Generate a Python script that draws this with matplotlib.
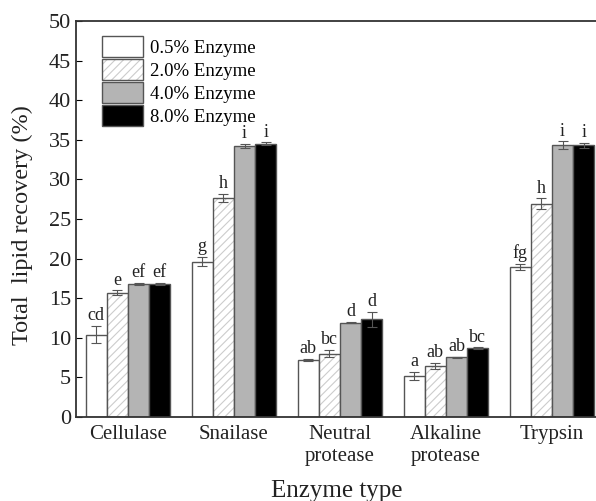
import numpy as np
import matplotlib
matplotlib.use("Agg")
import matplotlib.pyplot as plt
from matplotlib.patches import Patch

plt.rcParams['font.family'] = ['Liberation Serif', 'DejaVu Serif']
plt.rcParams['hatch.linewidth'] = 0.8

# data
enzymes = ['Cellulase', 'Snailase', 'Neutral\nprotease', 'Alkaline\nprotease', 'Trypsin']
doses = ['0.5% Enzyme', '2.0% Enzyme', '4.0% Enzyme', '8.0% Enzyme']
vals = [
    [10.4, 19.6, 7.2, 5.2, 18.9],
    [15.7, 27.7, 8.0, 6.4, 26.9],
    [16.8, 34.2, 11.9, 7.5, 34.3],
    [16.8, 34.5, 12.3, 8.7, 34.3],
]
errs = [
    [1.1, 0.6, 0.1, 0.5, 0.4],
    [0.3, 0.5, 0.5, 0.4, 0.7],
    [0.1, 0.3, 0.1, 0.1, 0.5],
    [0.1, 0.2, 1.0, 0.1, 0.3],
]
letters = [
    ['cd', 'g', 'ab', 'a', 'fg'],
    ['e', 'h', 'bc', 'ab', 'h'],
    ['ef', 'i', 'd', 'ab', 'i'],
    ['ef', 'i', 'd', 'bc', 'i'],
]

faces = ['white', 'white', '#b4b4b4', 'black']
hatches = [None, '////', None, None]

fig = plt.figure(figsize=(5.96, 5.01), dpi=100)
ax = fig.add_axes([0.1275, 0.168, 0.875, 0.79])

x = np.arange(len(enzymes))
w = 0.2
for k in range(4):
    pos = x + (k - 1.5) * w
    if hatches[k]:
        # light hatch drawn first, then a dark outline on top
        ax.bar(pos, vals[k], w, color=faces[k], edgecolor='#cccccc', linewidth=0,
               hatch=hatches[k], zorder=2)
        ax.bar(pos, vals[k], w, color='none', edgecolor='#555555', linewidth=1.0,
               zorder=2)
    else:
        ax.bar(pos, vals[k], w, color=faces[k], edgecolor='#555555', linewidth=1.0,
               zorder=2)
    ax.errorbar(pos, vals[k], yerr=errs[k], fmt='none', ecolor='#555555',
                elinewidth=0.8, capsize=3.5, capthick=0.8, zorder=3)
    for p, v, e, t in zip(pos, vals[k], errs[k], letters[k]):
        ax.text(p, v + e + 0.2, t, ha='center', va='bottom', fontsize=13, color='#222222')

ax.set_xlim(-0.49, 4.43)
ax.set_ylim(0, 50)
ax.set_yticks(range(0, 51, 5))
ax.set_xticks(x)
ax.set_xticklabels(enzymes, fontsize=15, color='#222222', linespacing=1.2)
ax.tick_params(axis='y', direction='in', labelsize=16, labelcolor='#222222', length=4)
ax.tick_params(axis='x', length=0, pad=6)
ax.spines['right'].set_visible(False)
for s in ['left', 'top', 'bottom']:
    ax.spines[s].set_linewidth(1.3)
    ax.spines[s].set_color('#333333')

ax.set_ylabel('Total  lipid recovery (%)', fontsize=17.5, color='#222222')
ax.yaxis.set_label_coords(-0.082, 0.485)
ax.set_xlabel('Enzyme type', fontsize=18, color='#222222', labelpad=10)

handles = [
    Patch(facecolor='white', edgecolor='#555555'),
    (Patch(facecolor='white', edgecolor='#cccccc', hatch='////', linewidth=0),
     Patch(facecolor='none', edgecolor='#555555')),
    Patch(facecolor='#b4b4b4', edgecolor='#555555'),
    Patch(facecolor='black', edgecolor='#555555'),
]
ax.legend(handles, doses, loc='upper left', bbox_to_anchor=(0.025, 0.995), frameon=False,
          fontsize=13.5, handlelength=2.2, handleheight=1.35, handletextpad=0.35,
          labelspacing=0.1, borderaxespad=0.3)

fig.savefig('out.png', dpi=100)
